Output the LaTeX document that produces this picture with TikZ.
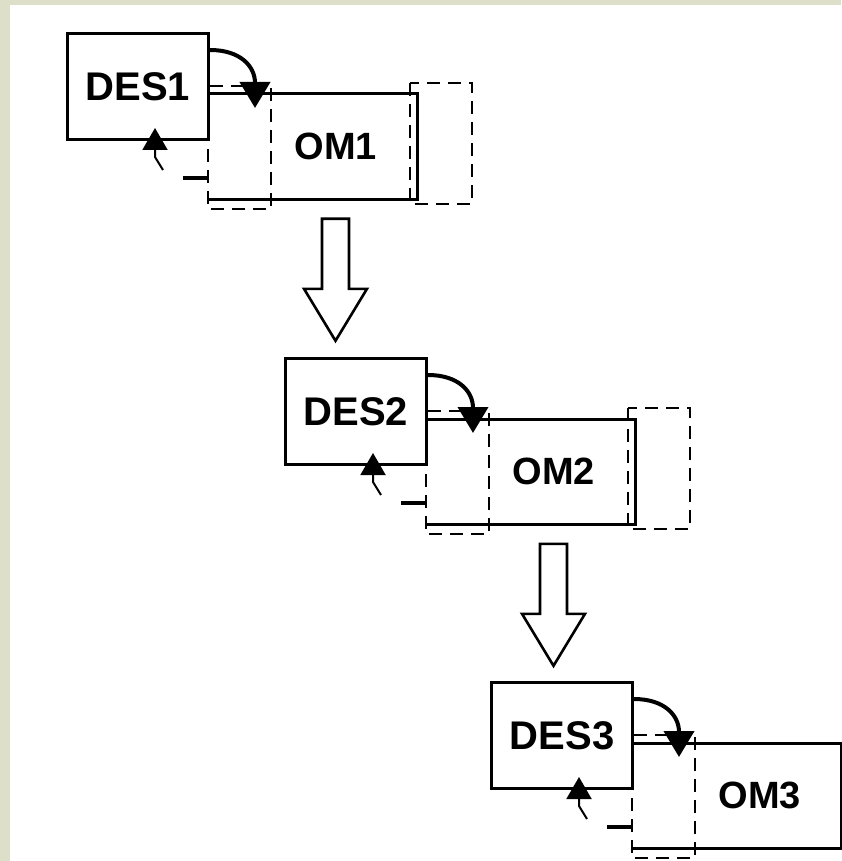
\documentclass[tikz,border=0pt]{standalone}
\usepackage{fontspec}
\setmainfont{Liberation Sans}
\usetikzlibrary{arrows.meta,calc}
\definecolor{paper}{RGB}{221,223,200}

\begin{document}
\begin{tikzpicture}[x=0.5pt,y=-0.5pt,
    desbox/.style={draw,line width=1.5pt,minimum width=70.5pt,minimum height=53pt,
      anchor=north west,inner sep=0pt,font=\bfseries\fontsize{20}{20}\selectfont},
    omarea/.style={minimum width=104.5pt,minimum height=52.5pt,anchor=north west,inner sep=0pt},
    omlabel/.style={font=\bfseries\fontsize{19}{19}\selectfont,inner sep=0pt},
    window/.style={dash pattern=on 6.5pt off 4pt,line width=1pt},
    turn/.style={line width=2pt,-{Triangle[width=15pt,length=13pt]}},
    back/.style={line width=1pt,-{Triangle[width=12.5pt,length=11pt]}},
    tick/.style={line width=2pt},
    hollow/.style={draw,fill=white,line width=1.3pt,line join=miter}]
  \fill[paper] (0,0) rectangle (841,861);
  \fill[white] (10,5) rectangle (841,861);
  \useasboundingbox (0,0) rectangle (841,861);

  % the three stages
  \foreach \i/\X/\Y in {1/66/32, 2/284/357, 3/490/681} {
    \node[desbox] (des\i) at (\X,\Y) {DES\i};
    \node[omarea] (om\i) at (\X+142,\Y+62) {};
    \draw[line width=1.5pt] (om\i.north west) -- (om\i.north east)
      -- (om\i.south east) -- (om\i.south west);
    \node[omlabel] (omt\i) at ($(om\i.center)+(23,0)$) {OM\i};
    \draw[window] (om\i.north west) ++(0,-8) rectangle ++(63,123);
    \draw[turn] ($(des\i.north east)+(0,18)$) .. controls +(30,0) and +(0,-42) ..
      ($(om\i.north west)+(47,14)$);
    \coordinate (tail\i) at ($(des\i.south west)+(97,29)$);
    \draw[back] (tail\i) -- ++(-8,-13) -- ($(des\i.south west)+(89,-13)$);
    \draw[tick] ($(om\i.south west)+(-25,-22)$) -- ($(om\i.south west)+(0,-22)$);
  }
  \foreach \i in {1,2}
    \draw[window] (om\i.north east) ++(-8,-11) rectangle ++(62,121);

  % block arrows between the stages
  \foreach \i in {1,2} {
    \coordinate (drop\i) at ($(om\i.south west)+(127.5,19)$);
    \draw[hollow] (drop\i) ++(-13.5,0) -- ++(27,0) -- ++(0,70) -- ++(18,0)
      -- ++(-31.5,52) -- ++(-31.5,-52) -- ++(18,0) -- cycle;
  }
\end{tikzpicture}
\end{document}
